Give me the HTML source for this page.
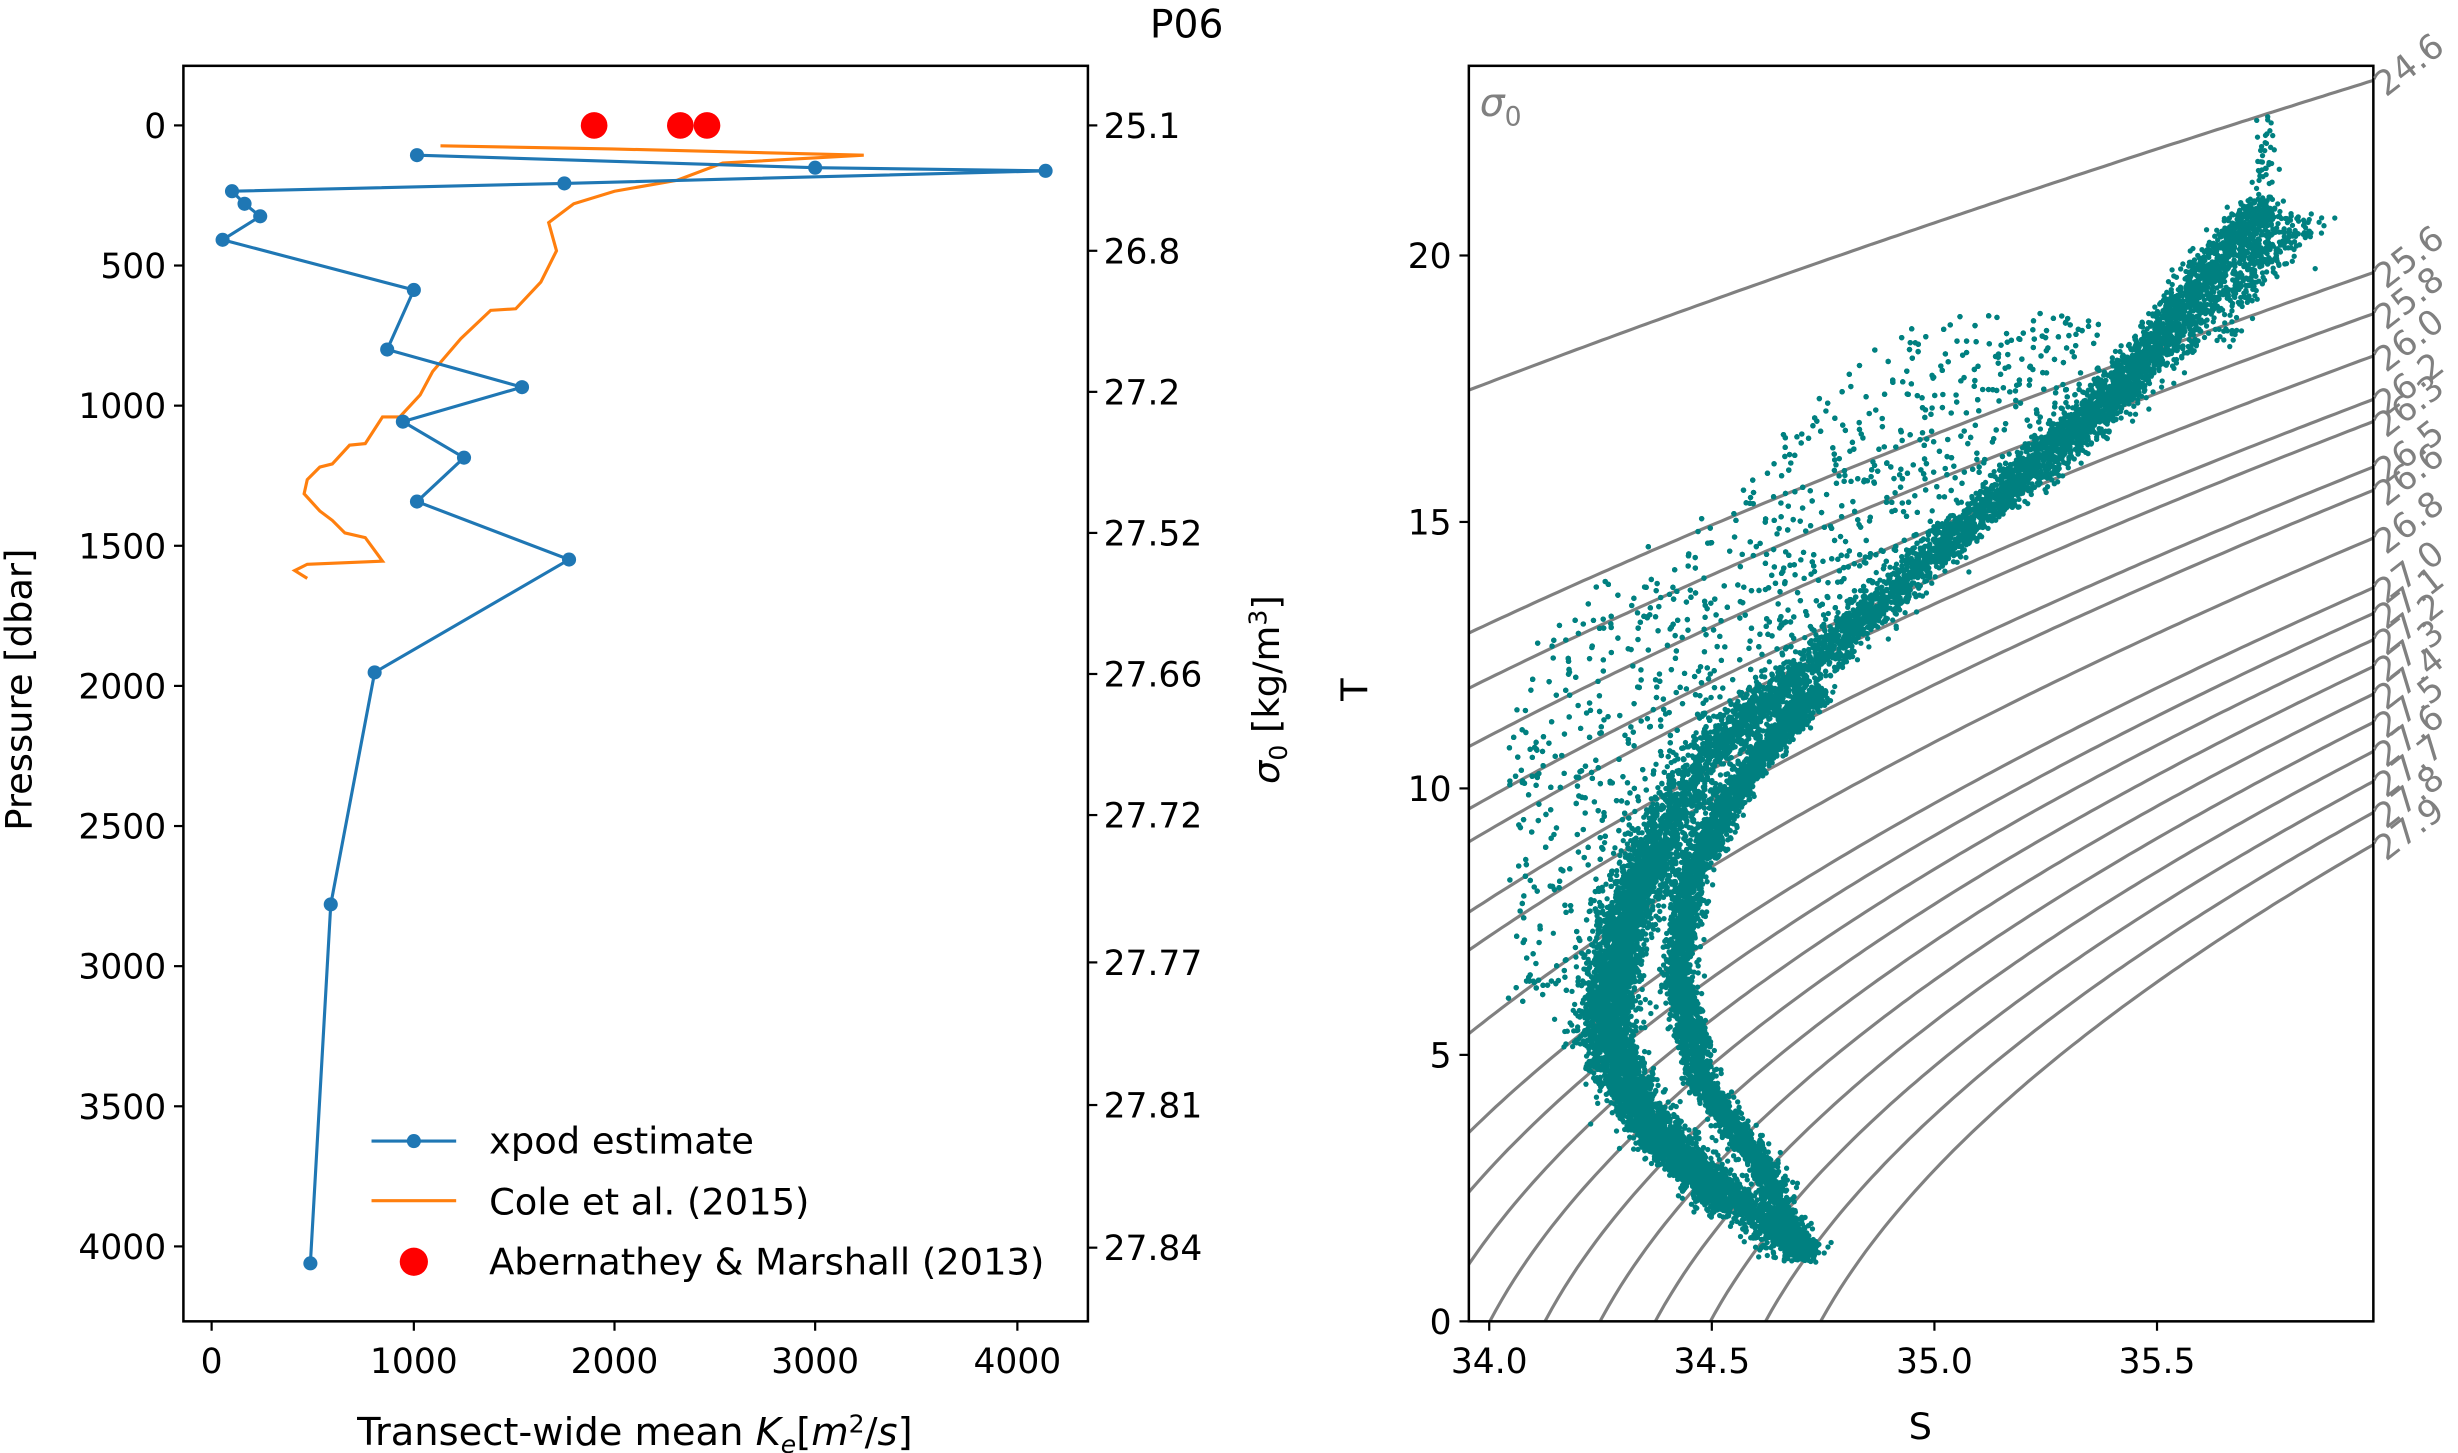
<!DOCTYPE html>
<html><head><meta charset="utf-8"><style>
html,body{margin:0;padding:0;background:#fff;}
svg{display:block;}
text{font-family:"DejaVu Sans","Liberation Sans",sans-serif;}
</style></head><body>
<svg id="s" xmlns="http://www.w3.org/2000/svg" width="2458" height="1453" viewBox="0 0 1568 927" preserveAspectRatio="none">
<defs>
<clipPath id="cR"><rect x="937" y="42" width="577" height="801"/></clipPath>
<clipPath id="cL"><rect x="117" y="42" width="577" height="801"/></clipPath>
</defs>
<text x="757" y="24" font-size="25" text-anchor="middle">P06</text>
<g clip-path="url(#cL)">
<polyline fill="none" stroke="#ff7f0e" stroke-width="2" points="281,93 390,95 551,99 461,104 432,115 392,122 366,130 350,142 355,160 345,180 329,197 313,198 294,216 276,237 268,252 255,266 244,266 233,283 223,284 212,296 204,298 196,306 194,315 204,326 212,332 220,340 233,343 244,358 196,360 188,364 196,369"/>
<polyline fill="none" stroke="#1f77b4" stroke-width="2" points="266,99 520,107 667,109 360,117 148,122 156,130 166,138 142,153 264,185 247,223 333,247 257,269 296,292 266,320 363,357 239,429 211,577 198,806"/>
<g fill="#1f77b4">
<circle cx="266" cy="99" r="4.5"/><circle cx="520" cy="107" r="4.5"/><circle cx="667" cy="109" r="4.5"/><circle cx="360" cy="117" r="4.5"/><circle cx="148" cy="122" r="4.5"/><circle cx="156" cy="130" r="4.5"/><circle cx="166" cy="138" r="4.5"/><circle cx="142" cy="153" r="4.5"/><circle cx="264" cy="185" r="4.5"/><circle cx="247" cy="223" r="4.5"/><circle cx="333" cy="247" r="4.5"/><circle cx="257" cy="269" r="4.5"/><circle cx="296" cy="292" r="4.5"/><circle cx="266" cy="320" r="4.5"/><circle cx="363" cy="357" r="4.5"/><circle cx="239" cy="429" r="4.5"/><circle cx="211" cy="577" r="4.5"/><circle cx="198" cy="806" r="4.5"/>
</g>
<g fill="#ff0000"><circle cx="379" cy="80" r="8.5"/><circle cx="434" cy="80" r="8.5"/><circle cx="451" cy="80" r="8.5"/></g>
</g>
<rect x="117" y="42" width="577" height="801" fill="none" stroke="#000" stroke-width="1.6"/>
<g stroke="#000" stroke-width="1.4" id="lt"></g>
<g font-size="22" id="ltl"></g>
<line x1="237" y1="728" x2="291" y2="728" stroke="#1f77b4" stroke-width="2"/><circle cx="264" cy="728" r="4.5" fill="#1f77b4"/>
<text x="312" y="736" font-size="23.5">xpod estimate</text>
<line x1="237" y1="766" x2="291" y2="766" stroke="#ff7f0e" stroke-width="2"/>
<text x="312" y="775" font-size="23.5">Cole et al. (2015)</text>
<circle cx="264" cy="805" r="9" fill="#ff0000"/>
<text x="312" y="813" font-size="23.5">Abernathey &amp; Marshall (2013)</text>
<text transform="translate(20,440) rotate(-90)" font-size="23.5" text-anchor="middle">Pressure [dbar]</text>
<text transform="translate(816,440) rotate(-90)" font-size="23.5" text-anchor="middle"><tspan font-style="italic">σ</tspan><tspan font-size="16" dy="5">0</tspan><tspan dy="-5"> [kg/m</tspan><tspan font-size="16" dy="-8">3</tspan><tspan dy="8">]</tspan></text>
<text x="405" y="922" font-size="24.5" text-anchor="middle">Transect-wide mean <tspan font-style="italic">K</tspan><tspan font-style="italic" font-size="16" dy="5">e</tspan><tspan dy="-5">[</tspan><tspan font-style="italic">m</tspan><tspan font-size="16" dy="-8">2</tspan><tspan dy="8">/</tspan><tspan font-style="italic">s</tspan>]</text>
<g clip-path="url(#cR)">
<g id="cont" fill="none" stroke="#808080" stroke-width="2"></g>
<g id="sc" fill="#008080"></g>
</g>
<rect x="937" y="42" width="577" height="801" fill="none" stroke="#000" stroke-width="1.6"/>
<g id="rl" font-size="22" fill="#808080"></g>
<text x="944" y="74" font-size="25" fill="#808080" font-style="italic">σ<tspan font-size="17" dy="6" font-style="normal">0</tspan></text>
<text transform="translate(872,440) rotate(-90)" font-size="23.5" text-anchor="middle">T</text>
<text x="1225" y="918" font-size="23.5" text-anchor="middle">S</text>
</svg>
<script>
var NS="http://www.w3.org/2000/svg";
function el(p,t,a,txt){var e=document.createElementNS(NS,t);for(var k in a)e.setAttribute(k,a[k]);if(txt!=null)e.textContent=txt;p.appendChild(e);return e;}
var lt=document.getElementById('lt'),ltl=document.getElementById('ltl');
[0,500,1000,1500,2000,2500,3000,3500,4000].forEach(function(p){var y=80+p*0.1788;el(lt,'line',{x1:111,y1:y,x2:117,y2:y});el(ltl,'text',{x:106,y:y+8,'text-anchor':'end'},String(p));});
[[0,135],[1000,264],[2000,392],[3000,520],[4000,649]].forEach(function(a){el(lt,'line',{x1:a[1],y1:843,x2:a[1],y2:849});el(ltl,'text',{x:a[1],y:876,'text-anchor':'middle'},String(a[0]));});
[["25.1",80],["26.8",160],["27.2",250],["27.52",340],["27.66",430],["27.72",520],["27.77",614],["27.81",705],["27.84",796]].forEach(function(a){el(lt,'line',{x1:694,y1:a[1],x2:700,y2:a[1]});el(ltl,'text',{x:704,y:a[1]+8},a[0]);});
[0,5,10,15,20].forEach(function(t){var y=843-t*34;el(lt,'line',{x1:931,y1:y,x2:937,y2:y});el(ltl,'text',{x:926,y:y+8,'text-anchor':'end'},String(t));});
[[34.0,"34.0"],[34.5,"34.5"],[35.0,"35.0"],[35.5,"35.5"]].forEach(function(a){var x=950+(a[0]-34)*284;el(lt,'line',{x1:x,y1:843,x2:x,y2:849});el(ltl,'text',{x:x,y:876,'text-anchor':'middle'},a[1]);});
function sig(S,T){var rw=999.842594+6.793952e-2*T-9.095290e-3*T*T+1.001685e-4*T*T*T-1.120083e-6*T*T*T*T+6.536332e-9*Math.pow(T,5);
var b=8.24493e-1-4.0899e-3*T+7.6438e-5*T*T-8.2467e-7*T*T*T+5.3875e-9*T*T*T*T;var c=-5.72466e-3+1.0227e-4*T-1.6546e-6*T*T;
return rw+b*S+c*Math.pow(S,1.5)+4.8314e-4*S*S-1000;}
function solveT(S,s){var lo=-3,hi=40;for(var i=0;i<50;i++){var m=(lo+hi)/2;if(sig(S,m)>s)lo=m;else hi=m;}return (lo+hi)/2;}
var levels=[24.6,25.6,25.8,26.0,26.2,26.3,26.5,26.6,26.8,27.0,27.1,27.2,27.3,27.4,27.5,27.6,27.7,27.8,27.9];
var cont=document.getElementById('cont'),rl=document.getElementById('rl');
levels.forEach(function(L){var pts=[];for(var x=930;x<=1520;x+=4){var S=34+(x-950)/284;var T=solveT(S,L);pts.push(x+','+(843-T*34).toFixed(1));}
el(cont,'polyline',{points:pts.join(' ')});
var Sr=34+(1514-950)/284;var yr=843-solveT(Sr,L)*34;
el(rl,'text',{transform:'translate(1522,'+(yr+11).toFixed(1)+') rotate(-38)'},L.toFixed(1));});
var seed=12345;function rnd(){seed=(seed*1103515245+12345)%2147483648;return seed/2147483648;}
function gauss(){var u=rnd()||1e-9,v=rnd();return Math.sqrt(-2*Math.log(u))*Math.cos(2*Math.PI*v);}
var sc=document.getElementById('sc');var html=[];
function dot(x,y){html.push('<circle cx="'+x.toFixed(1)+'" cy="'+y.toFixed(1)+'" r="1.7"/>');}
function band(P,n,w){var L=[0];for(var i=1;i<P.length;i++){L.push(L[i-1]+Math.hypot(P[i][0]-P[i-1][0],P[i][1]-P[i-1][1]));}
var tot=L[L.length-1];for(var k=0;k<n;k++){var d=rnd()*tot;var i=1;while(L[i]<d)i++;var f=(d-L[i-1])/(L[i]-L[i-1]);
var x=P[i-1][0]+f*(P[i][0]-P[i-1][0]),y=P[i-1][1]+f*(P[i][1]-P[i-1][1]);var ww=typeof w=='function'?w(y):w;dot(x+gauss()*ww,y+gauss()*ww*0.4);}}
var A=[[1150,800],[1100,760],[1040,700],[1020,660],[1025,620],[1045,560],[1090,480],[1160,420],[1260,330],[1350,250],[1410,170],[1445,130]];
band(A,7000,function(y){return y>560?9:(y>400?9:8);});
band([[1150,803],[1125,745],[1085,690],[1070,620],[1078,560],[1110,500],[1160,440]],4500,5);
band([[1100,770],[1050,720],[1030,660],[1035,600],[1055,540]],2500,7);
band([[1280,320],[1360,240],[1420,185],[1470,140]],1000,10);
band([[1420,220],[1440,170],[1445,100],[1447,75]],120,4);
function xA(y){for(var i=1;i<A.length;i++){if(y>=A[i][1]){var f=(y-A[i-1][1])/(A[i][1]-A[i-1][1]);return A[i-1][0]+f*(A[i][0]-A[i-1][0]);}}return 1445;}
var U=[[962,450],[980,405],[1040,355],[1100,320],[1150,260],[1200,215],[1260,195],[1310,200],[1360,200]];
function ub(x){for(var i=1;i<U.length;i++){if(x<=U[i][0]){var f=(x-U[i-1][0])/(U[i][0]-U[i-1][0]);return U[i-1][1]+f*(U[i][1]-U[i-1][1]);}}return 200;}
var cnt=0;while(cnt<3600){var x=962+rnd()*380,y=200+rnd()*440;var xa=xA(y);if(x>xa+5)continue;if(y<ub(x))continue;var p=0.3+0.7*Math.exp(-(xa-x)/90);if(y>560)p*=0.8;if(rnd()<p){dot(x,y);cnt++;}}
sc.innerHTML=html.join('');
</script>
</body></html>
